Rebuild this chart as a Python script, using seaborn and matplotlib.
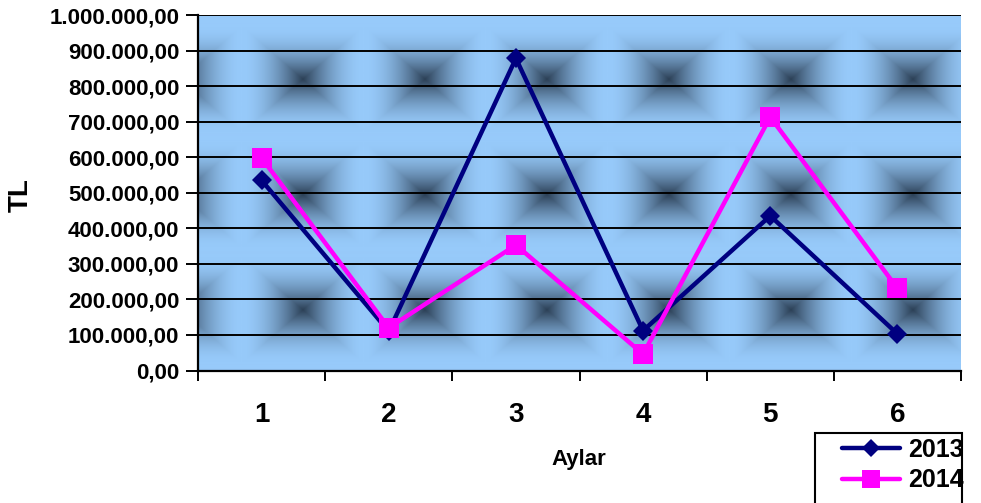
import numpy as np
import pandas as pd
import matplotlib
matplotlib.use("Agg")
import matplotlib.pyplot as plt
from matplotlib.ticker import FuncFormatter, MultipleLocator
from matplotlib.lines import Line2D
from matplotlib.patches import Rectangle
from matplotlib.font_manager import FontProperties
import seaborn as sns

# ---- data ----
months = [1, 2, 3, 4, 5, 6]
values_2013 = [535000, 110000, 878000, 112000, 435000, 103000]
values_2014 = [598000, 120000, 353000, 46000, 713000, 231000]
series_names = ["2013", "2014"]
x_tick_labels = ["1", "2", "3", "4", "5", "6"]

df = pd.DataFrame({
    "Aylar": months * 2,
    "TL": values_2013 + values_2014,
    "Yil": [series_names[0]] * len(months) + [series_names[1]] * len(months),
})

sns.set_theme(style="white")
plt.rcParams["font.family"] = ["Liberation Sans", "DejaVu Sans"]
plt.rcParams["font.weight"] = "bold"
plt.rcParams["text.color"] = "black"

W, H = 981, 503
fig = plt.figure(figsize=(W / 100, H / 100), dpi=100)
L, R, T, B = 198, 961, 15, 370.5
ax = fig.add_axes([L / W, 1 - B / H, (R - L) / W, (B - T) / H])

# ---- textured background (decorative) ----
nx, ny = int(R - L), int(B - T)
px = L + np.arange(nx) + 0.5
py = T + np.arange(ny) + 0.5
PX, PY = np.meshgrid(px, py)
pw, ph = 122.0, 115.0
dx = np.mod(PX - 181 + pw / 2, pw) - pw / 2
dy = np.mod(PY - 80 + ph / 2, ph) - ph / 2
t = np.maximum(np.abs(dx) / 60.0, np.abs(dy) / 52.0)
s = np.clip(1 - t, 0, 1)
d = s ** 1.8
light = np.array([0x97, 0xCA, 0xFA]) / 255
dark = np.array([0x2C, 0x40, 0x56]) / 255
img = light[None, None, :] * (1 - d[..., None]) + dark[None, None, :] * d[..., None]
ax.imshow(img, extent=(0.5, 6.5, 0, 1_000_000), aspect="auto", zorder=0,
          interpolation="bilinear")

palette = {"2013": "#000080", "2014": "#FF00FF"}
sns.lineplot(data=df, x="Aylar", y="TL", hue="Yil", style="Yil",
             markers={"2013": "D", "2014": "s"}, dashes=False,
             palette=palette, markeredgewidth=0,
             ax=ax, legend=False, zorder=5)
for ln in ax.lines:
    ln.set_linewidth(3.2)
    if ln.get_marker() == "D":
        ln.set_markersize(10.5)
    elif ln.get_marker() == "s":
        ln.set_markersize(14)

ax.set_xlim(0.5, 6.5)
ax.set_ylim(0, 1_000_000)
ax.yaxis.set_major_locator(MultipleLocator(100_000))
ax.grid(False)
for yv in np.arange(100_000, 1_000_001, 100_000):
    ax.axhline(yv, color="black", lw=1.4, zorder=2)

def tr_fmt(v, pos):
    s = f"{v:,.2f}"
    return s.replace(",", "X").replace(".", ",").replace("X", ".")

ax.yaxis.set_major_formatter(FuncFormatter(tr_fmt))
ax.set_xticks(months)
ax.set_xticklabels(x_tick_labels)
ax.set_xticks(np.arange(0.5, 6.6, 1.0), minor=True)
ax.tick_params(axis="x", which="major", length=0, pad=23, labelsize=20)
ax.tick_params(axis="x", which="minor", length=7, width=1.4, color="black",
               direction="out", bottom=True)
ax.tick_params(axis="y", which="major", length=8.5, width=1.4, color="black",
               direction="out", left=True, pad=5, labelsize=16)
for lab in ax.get_xticklabels() + ax.get_yticklabels():
    lab.set_fontweight("bold")
    lab.set_color("black")

for side in ["top", "right"]:
    ax.spines[side].set_visible(False)
for side in ["left", "bottom"]:
    ax.spines[side].set_color("black")
    ax.spines[side].set_linewidth(1.6)
    ax.spines[side].set_zorder(3)

ax.set_xlabel("")
ax.set_ylabel("")
fig.text(579 / W, 1 - 459 / H, "Aylar", ha="center", va="center",
         fontsize=16, fontweight="bold", color="black")
fig.text(21 / W, 1 - 195 / H, "TL", ha="center", va="center", rotation=90,
         fontsize=20, fontweight="bold", color="black")

# ---- legend ----
handles = [
    Line2D([], [], color=palette["2013"], lw=3.2, marker="D", markersize=9, markeredgewidth=0),
    Line2D([], [], color=palette["2014"], lw=3.2, marker="s", markersize=13, markeredgewidth=0),
]
fig.add_artist(Rectangle((815 / W, -0.01), (962 - 815) / W, (H - 433) / H + 0.01,
                         transform=fig.transFigure, fill=False, edgecolor="black",
                         lw=1.5, clip_on=False))
leg_font = FontProperties(family="Liberation Sans", weight="bold", size=18)
leg = fig.legend(handles, series_names, loc="upper left",
                 bbox_to_anchor=(842 / W, 1 - 438 / H), frameon=False,
                 prop=leg_font, handlelength=2.3,
                 handletextpad=0.35, labelspacing=0.25, borderpad=0.0,
                 borderaxespad=0.0, numpoints=1, labelcolor="black")

fig.savefig("out.png", dpi=100)
